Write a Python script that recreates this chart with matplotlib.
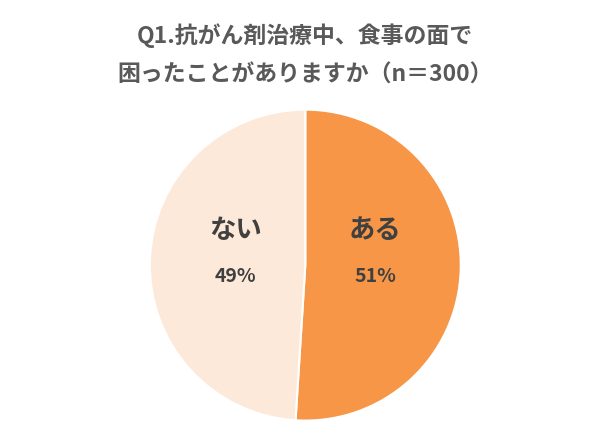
import matplotlib
matplotlib.use("Agg")
import matplotlib.pyplot as plt

plt.rcParams['font.family'] = ['Noto Sans CJK JP', 'DejaVu Sans']

labels = ["ある", "ない"]
values = [51, 49]
colors = ["#F79646", "#FDE9D9"]

fig = plt.figure(figsize=(6.10, 4.29), dpi=100)
fig.text(0.5, 0.918, "Q1.抗がん剤治療中、食事の面で", ha='center', va='center',
         fontsize=16.5, fontweight='bold', color='#595959')
fig.text(0.5, 0.825, "困ったことがありますか（n＝300）", ha='center', va='center',
         fontsize=16.5, fontweight='bold', color='#595959')

ax = fig.add_axes([0.243, 0.016, 0.515, 0.732])
wedges, _ = ax.pie(values, colors=colors, startangle=90, counterclock=False,
                   wedgeprops=dict(edgecolor='white', linewidth=1.5))
ax.set_xlim(-1.01, 1.01)
ax.set_ylim(-1.01, 1.01)
ax.set_aspect('equal')

pos = [(0.45, 0.2), (-0.45, 0.2)]
for (x, y), lab, v in zip(pos, labels, values):
    ax.text(x, y + 0.02, lab, ha='center', va='center', fontsize=19,
            fontweight='bold', color='#404040')
    ax.text(x, y - 0.27, f"{v}%", ha='center', va='center', fontsize=14,
            fontweight='bold', color='#404040')

fig.savefig("out.png", dpi=100)
